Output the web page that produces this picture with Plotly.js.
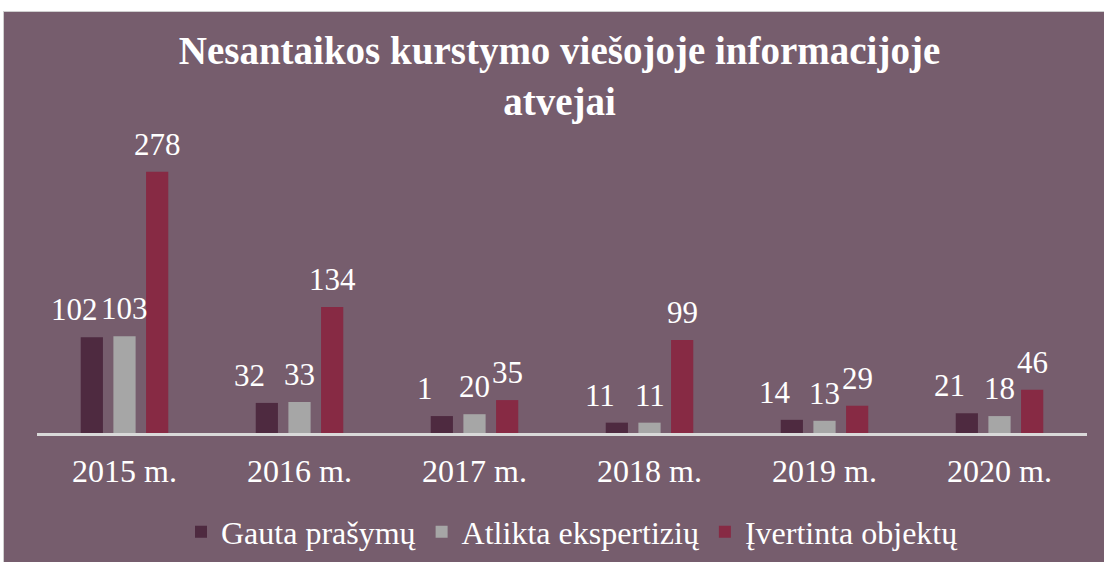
<!DOCTYPE html>
<html>
<head>
<meta charset="utf-8">
<script src="https://cdn.plot.ly/plotly-3.0.1.min.js"></script>
<style>
html,body{margin:0;padding:0;background:#ffffff;}
#wrap{position:absolute;left:3px;top:11px;width:1100px;height:550px;border-top:1px solid #cfcfcf;border-left:1px solid #cfcfcf;}
#chart{width:1100px;height:550px;}
</style>
</head>
<body>
<div id="wrap"><div id="chart"></div></div>
<script>
const years = ['2015 m.', '2016 m.', '2017 m.', '2018 m.', '2019 m.', '2020 m.'];
const seriesNames = ['Gauta prašymų', 'Atlikta ekspertizių', 'Įvertinta objektų'];
const gauta = [102, 32, 18, 11, 14, 21];
const gautaLabels = ['102', '32', '1', '11', '14', '21'];
const atlikta = [103, 33, 20, 11, 13, 18];
const atliktaLabels = ['103', '33', '20', '11', '13', '18'];
const ivertinta = [278, 134, 35, 99, 29, 46];
const ivertintaLabels = ['278', '134', '35', '99', '29', '46'];
const colors = ['#4e2a40', '#a6a6a6', '#872a44'];

const serif = 'Liberation Serif, Times New Roman, serif';
const catW = 175, bargap = 0.44;
const slot = catW * (1 - bargap) / 3;
const seriesShift = [-slot - 17, 0, slot];

function mk(name, vals, color) {
  return {
    type: 'bar', name: name, x: years, y: vals,
    marker: {color: color, line: {width: 0}},
    hoverinfo: 'skip'
  };
}
const data = [
  mk(seriesNames[0], gauta, colors[0]),
  mk(seriesNames[1], atlikta, colors[1]),
  mk(seriesNames[2], ivertinta, colors[2])
];
const annotations = [];
[[gauta, gautaLabels], [atlikta, atliktaLabels], [ivertinta, ivertintaLabels]].forEach(function (s, si) {
  s[0].forEach(function (v, i) {
    annotations.push({
      x: years[i], y: v, xref: 'x', yref: 'y', text: s[1][i], showarrow: false,
      xanchor: 'center', yanchor: 'bottom', xshift: seriesShift[si], yshift: 8,
      font: {family: serif, size: 31, color: '#ffffff'}
    });
  });
});
const layout = {
  width: 1100, height: 550,
  paper_bgcolor: '#765d6d', plot_bgcolor: '#765d6d',
  margin: {l: 33, r: 17, t: 108, b: 129, autoexpand: false},
  barmode: 'group', bargap: bargap, bargroupgap: 0.32,
  title: {
    text: '<b>Nesantaikos kurstymo viešojoje informacijoje<br>atvejai</b>',
    font: {family: serif, size: 39, color: '#ffffff'},
    x: 0.505, xanchor: 'center', y: 0.905, yanchor: 'middle', yref: 'container'
  },
  xaxis: {
    showline: true, linecolor: '#d9d9d9', linewidth: 3,
    ticks: '', showgrid: false, zeroline: false,
    tickfont: {family: serif, size: 32, color: '#ffffff'},
    ticklabelstandoff: 8
  },
  yaxis: {range: [0, 333], visible: false, showgrid: false, zeroline: false},
  annotations: annotations,
  showlegend: true,
  legend: {
    orientation: 'h', x: 0.51, xanchor: 'center', y: -0.316, yanchor: 'middle',
    font: {family: serif, size: 32, color: '#ffffff'},
    bgcolor: 'rgba(0,0,0,0)', itemwidth: 30, tracegroupgap: 0
  },
  font: {family: serif, color: '#ffffff'}
};
Plotly.newPlot('chart', data, layout, {displayModeBar: false, staticPlot: true});
</script>
</body>
</html>
